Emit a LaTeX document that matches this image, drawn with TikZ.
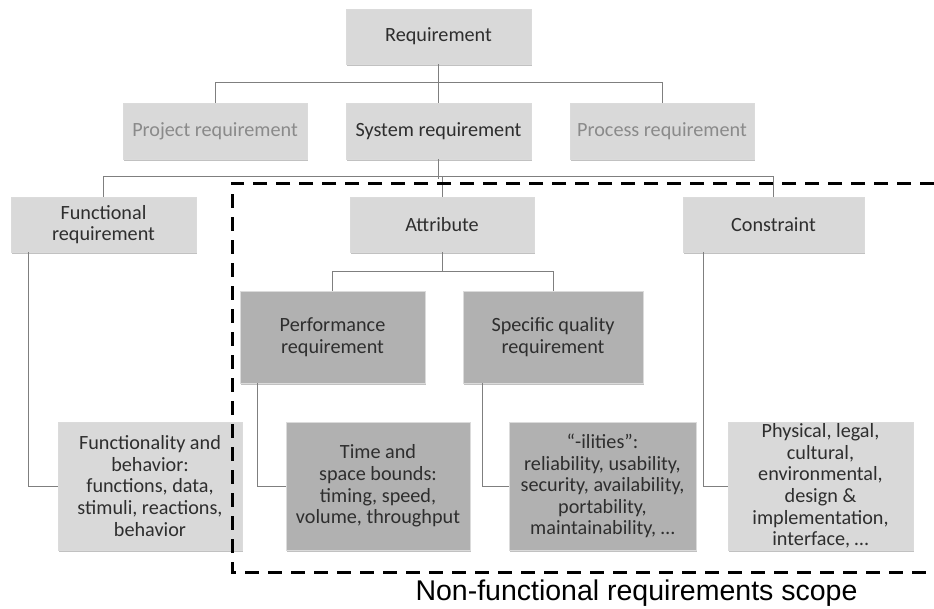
\documentclass[tikz,border=0pt]{standalone}
\usepackage{fontspec}
\setmainfont{Carlito}
\newfontfamily\arialf{Liberation Sans}
\usetikzlibrary{shadows}
\definecolor{lightbox}{HTML}{D9D9D9}
\definecolor{darkbox}{HTML}{B1B1B1}
\definecolor{txt}{HTML}{2E2E2E}
\definecolor{graytxt}{HTML}{8A8A8A}
\definecolor{conncol}{HTML}{7F7F7F}
\begin{document}
\begin{tikzpicture}[x=1pt,y=-1pt,
  box/.style={rectangle, fill=lightbox, draw=black!14, line width=0.4pt, text=txt,
    align=center, inner sep=0pt, font=\fontsize{20.2}{21.6}\selectfont,
    drop shadow={shadow xshift=0.8pt, shadow yshift=-1.5pt, opacity=0.4, fill=black!60}},
  dbox/.style={box, fill=darkbox},
  gbox/.style={box, text=graytxt},
  conn/.style={draw=conncol, line width=1pt},
  scopeline/.style={draw=black, line width=3pt, dash pattern=on 14pt off 9pt}]
\useasboundingbox (0,0) rectangle (934,608);
\fill[white] (0,0) rectangle (934,608);

\node[box, minimum width=185, minimum height=55] (req) at (438.5,36.5) {Requirement};
\node[gbox, minimum width=184, minimum height=56] (proj) at (215,131) {Project requirement};
\node[box, minimum width=185, minimum height=56] (sys) at (438.5,131) {System requirement};
\node[gbox, minimum width=184, minimum height=56] (proc) at (662,131) {Process requirement};

\node[box, minimum width=185, minimum height=55] (func) at (103.5,224.5) {Functional\\requirement};
\node[box, minimum width=184, minimum height=55] (attr) at (442,224.5) {Attribute};
\node[box, minimum width=181, minimum height=55] (cons) at (773.5,224.5) {Constraint};

\node[dbox, minimum width=185, minimum height=92] (perf) at (332.5,337) {Performance\\requirement};
\node[dbox, minimum width=180, minimum height=92] (spec) at (553,337) {Specific quality\\requirement};

\node[box, minimum width=184, minimum height=128] (fb) at (150,486) {Functionality and\\behavior:\\functions, data,\\stimuli, reactions,\\behavior};
\node[dbox, minimum width=184, minimum height=128] (time) at (378,486) {Time and\\space bounds:\\timing, speed,\\volume, throughput};
\node[dbox, minimum width=187, minimum height=128] (ilit) at (602.5,486) {“-ilities”:\\reliability, usability,\\security, availability,\\portability,\\maintainability, …};
\node[box, minimum width=185, minimum height=128] (phys) at (820.5,486) {Physical, legal,\\cultural,\\environmental,\\design \&\\implementation,\\interface, …};

\draw[conn] (req.south) -- (sys.north);
\draw[conn] (proj.north) -- ++(0,-20) -| (proc.north);
\draw[conn] (sys.south) -- ++(0,20);
\draw[conn] (func.north) -- ++(0,-20) -| (cons.north);
\draw[conn] (attr.north) -- ++(0,-20);
\draw[conn] (attr.south) -- ++(0,20);
\draw[conn] (perf.north) -- ++(0,-19) -| (spec.north);
\draw[conn] ([xshift=18]func.south west) |- (fb.west);
\draw[conn] ([xshift=18]perf.south west) |- (time.west);
\draw[conn] ([xshift=20]spec.south west) |- (ilit.west);
\draw[conn] ([xshift=21]cons.south west) |- (phys.west);

\coordinate (s1) at (934,183);
\coordinate (s2) at (232,183);
\coordinate (s3) at (232,572);
\coordinate (s4) at (934,572);
\draw[scopeline] (s1) -- (s2) -- (s3) -- (s4);
\node[anchor=base, font=\arialf\fontsize{28.5}{31}\selectfont, text=black, inner sep=0pt] (lbl) at (636.5,600) {Non-functional requirements scope};
\end{tikzpicture}
\end{document}
